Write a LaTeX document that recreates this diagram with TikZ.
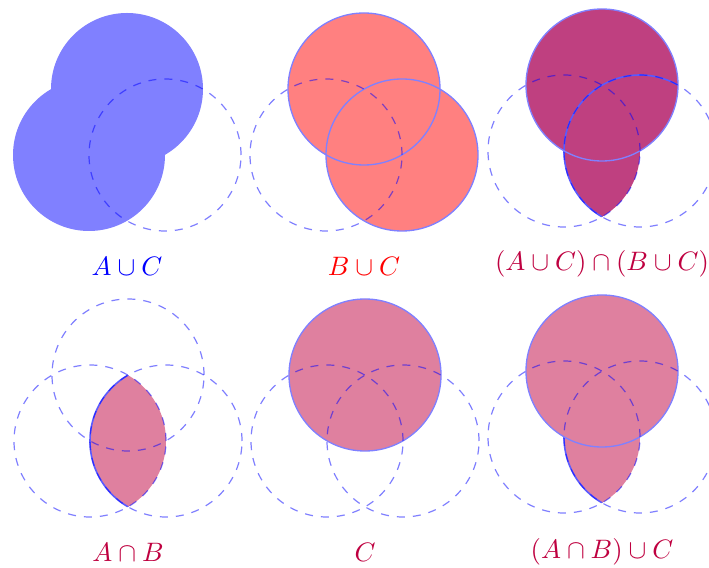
\documentclass[tikz,border=0pt]{standalone}
\usepackage{xcolor}
\usepackage{tikz}
\definecolor{setline}{RGB}{128,128,255}
\definecolor{setedge}{RGB}{90,90,255}
\definecolor{unionA}{RGB}{128,128,255}
\definecolor{unionB}{RGB}{255,128,128}
\definecolor{meetfill}{RGB}{191,64,128}
\definecolor{setfill}{RGB}{223,128,159}
\definecolor{setlabel}{RGB}{191,0,64}

\begin{document}
\begin{tikzpicture}[x=0.375pt,y=0.375pt,
  dashset/.style={blue,opacity=0.5,dashed,line width=0.45pt},
  outline/.style={setline,line width=0.5pt},
  edgeline/.style={setedge,line width=0.6pt},
  setname/.style={anchor=base,font=\fontsize{10}{12}\selectfont}]
  \useasboundingbox (0,0) rectangle (709,567);
  \fill[white] (0,0) rectangle (709,567);

  % A u C
  \begin{scope}[shift={(127,412)}]
    \fill[unionA] (-38,0) circle[radius=76] (0,66) circle[radius=76];
    \draw[dashset] (38,0) circle[radius=76];
  \end{scope}
  \node[setname,text=blue] (aorc) at (127,291) {$A\cup C$};

  % B u C
  \begin{scope}[shift={(364,412)}]
    \filldraw[fill=unionB,draw=setline,line width=0.5pt]
      (38,0) circle[radius=76] (0,66) circle[radius=76];
    \draw[dashset] (-38,0) circle[radius=76];
  \end{scope}
  \node[setname,text=red] (borc) at (364,291) {$B\cup C$};

  % (A u C) n (B u C)
  \begin{scope}[shift={(602,416)}]
    \begin{scope}
      \clip (-38,0) circle[radius=76] (0,66) circle[radius=76];
      \fill[meetfill] (38,0) circle[radius=76] (0,66) circle[radius=76];
      \draw[edgeline] (38,0) circle[radius=76];
    \end{scope}
    \draw[outline] (0,66) circle[radius=76];
    \draw[dashset] (-38,0) circle[radius=76] (38,0) circle[radius=76];
  \end{scope}
  \node[setname,text=setlabel] (meet) at (602,296)
    {$(A\cup C)\cap(B\cup C)$};

  % A n B
  \begin{scope}[shift={(128,126)}]
    \begin{scope}
      \clip (-38,0) circle[radius=76];
      \filldraw[fill=setfill,draw=setedge,line width=0.6pt]
        (38,0) circle[radius=76];
    \end{scope}
    \foreach \c in {(-38,0),(38,0),(0,66)}
      \draw[dashset] \c circle[radius=76];
  \end{scope}
  \node[setname,text=setlabel] (aandb) at (128,6) {$A\cap B$};

  % C
  \begin{scope}[shift={(365,126)}]
    \filldraw[fill=setfill,draw=setline,line width=0.5pt]
      (0,66) circle[radius=76];
    \draw[dashset] (-38,0) circle[radius=76] (38,0) circle[radius=76];
  \end{scope}
  \node[setname,text=setlabel] (conly) at (365,6) {$C$};

  % (A n B) u C
  \begin{scope}[shift={(602,130)}]
    \begin{scope}
      \clip (-38,0) circle[radius=76];
      \filldraw[fill=setfill,draw=setedge,line width=0.6pt]
        (38,0) circle[radius=76];
    \end{scope}
    \filldraw[fill=setfill,draw=setline,line width=0.5pt]
      (0,66) circle[radius=76];
    \draw[dashset] (-38,0) circle[radius=76] (38,0) circle[radius=76];
  \end{scope}
  \node[setname,text=setlabel] (join) at (602,9) {$(A\cap B)\cup C$};
\end{tikzpicture}
\end{document}
